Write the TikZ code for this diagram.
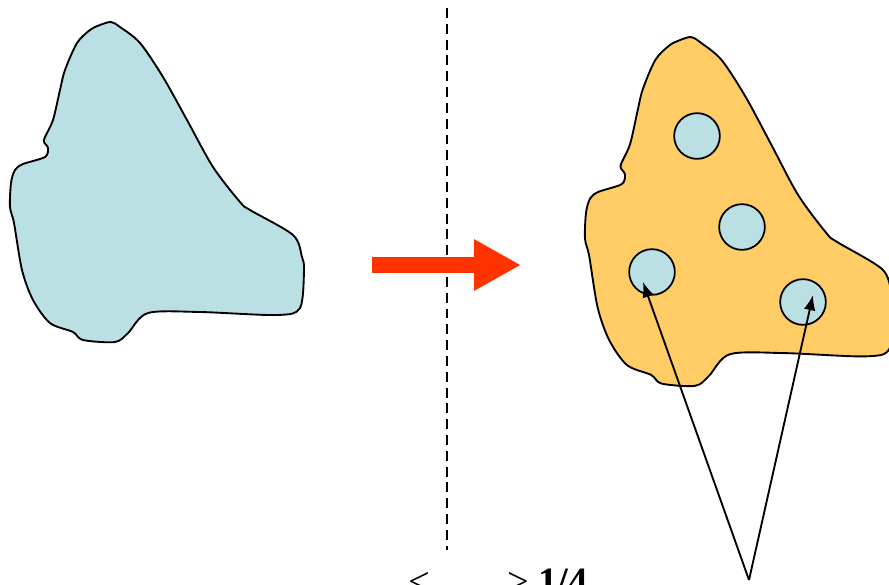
\documentclass[tikz,border=0pt]{standalone}
\usepackage{fontspec}
\setmainfont{Liberation Serif}
\usepackage{xcolor}
\usetikzlibrary{arrows.meta, positioning, calc}

\definecolor{blobblue}{RGB}{187,224,227}
\definecolor{bloborange}{RGB}{255,204,102}
\definecolor{arrowred}{RGB}{255,51,0}

% outline of the region, pixel units
\def\blobshape{plot[smooth cycle, tension=0.5] coordinates {
  (111,22) (120,27) (140,43) (163,77) (187,120) (213,167) (240,202) (250,210)
  (293,235) (302,257) (304,270) (300,308) (277,315) (200,312) (148,313) (128,333)
  (115,342) (83,340) (73,332) (50,323) (33,300) (22,270) (14,223) (10,207)
  (11,183) (15,170) (23,164) (45,157) (48,148) (44,142) (45,137) (53,120)
  (60,90) (65,70) (77,43) (90,30) (100,25)}}

\begin{document}
\begin{tikzpicture}[
          x=0.03cm, y=-0.03cm,
          blob/.style={draw, line width=1.6pt, line join=round},
          hole/.style={circle, draw, line width=1.5pt, fill=blobblue, minimum size=39pt, inner sep=0pt},
          pointer/.style={line width=1.6pt, -{Latex[length=13pt, width=10pt]}},
          divider/.style={line width=1.4pt, dash pattern=on 8.5pt off 5pt}
        ]
  \useasboundingbox (0,0) rectangle (889,585);

  % original region
  \draw[blob, fill=blobblue] \blobshape;

  % divider and transition arrow
  \coordinate (top) at (447,8);
  \coordinate (bottom) at (447,550);
  \draw[divider] (top) -- (bottom);
  \coordinate (from) at (372,265);
  \coordinate (to) at (521,265);
  \draw[arrowred, line width=13.5pt, -{Triangle[length=40pt, width=41pt]}] (from) -- (to);

  % region with holes
  \begin{scope}[shift={(574.5,13.02)}, xscale=1.05, yscale=1.09]
    \draw[blob, fill=bloborange] \blobshape;
  \end{scope}
  \node[hole] (h1) at (697,136) {};
  \node[hole] (h2) at (742,227) {};
  \node[hole] (h3) at (652,272) {};
  \node[hole] (h4) at (803,302) {};

  % pointers
  \coordinate (apex) at (749,580);
  \draw[pointer] (apex) -- ([shift={(-9,10)}]h3.center);
  \draw[pointer] (apex) -- ([shift={(10,-7)}]h4.center);

  % caption, cut by the lower edge
  \node[anchor=base west, inner sep=0pt, font=\fontsize{33}{36}\selectfont] (ratio) at (408,594)
    {<\hspace{66pt}>\hspace{8pt}\textbf{1/4}};
\end{tikzpicture}
\end{document}
